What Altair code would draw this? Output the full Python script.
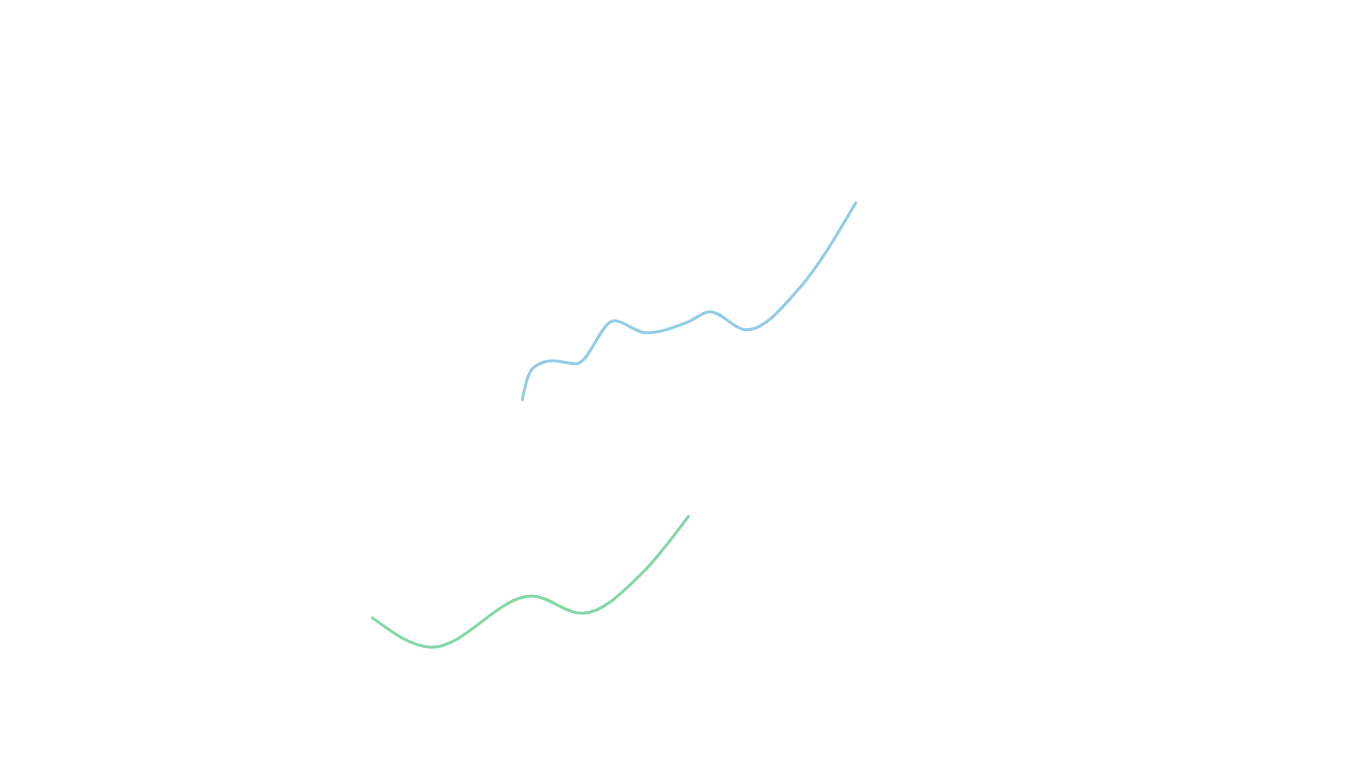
import altair as alt
import pandas as pd

# valores (escala 0-100 en ambos ejes)
serie_a_x = [38.1, 38.4, 39.0, 40.3, 42.1, 44.9, 47.3, 50.3, 52.0, 54.7, 58.7, 62.8]
serie_a_y = [47.9, 50.3, 52.3, 53.1, 52.7, 58.4, 56.8, 58.2, 59.6, 57.2, 62.9, 74.1]

serie_b_x = [27.0, 31.4, 38.8, 42.5, 47.0, 50.4]
serie_b_y = [18.9, 15.0, 21.8, 19.5, 24.9, 32.4]

data = pd.concat([
    pd.DataFrame({'x': serie_a_x, 'y': serie_a_y, 'serie': 'A'}),
    pd.DataFrame({'x': serie_b_x, 'y': serie_b_y, 'serie': 'B'}),
])

chart = alt.Chart(data).mark_line(
    interpolate='monotone',
    strokeWidth=3,
    opacity=0.75,
    strokeCap='round'
).encode(
    x=alt.X('x:Q', scale=alt.Scale(domain=[0, 100], nice=False, zero=False), axis=None),
    y=alt.Y('y:Q', scale=alt.Scale(domain=[0, 100], nice=False, zero=False), axis=None),
    color=alt.Color('serie:N', scale=alt.Scale(domain=['A', 'B'], range=['#6fbcdc', '#5cc98a']), legend=None),
    detail='serie:N'
).properties(
    width=1350,
    height=752,
    padding=0
).configure_view(stroke=None)

chart.save("out.html", embed_options={"renderer": "svg", "actions": False})
